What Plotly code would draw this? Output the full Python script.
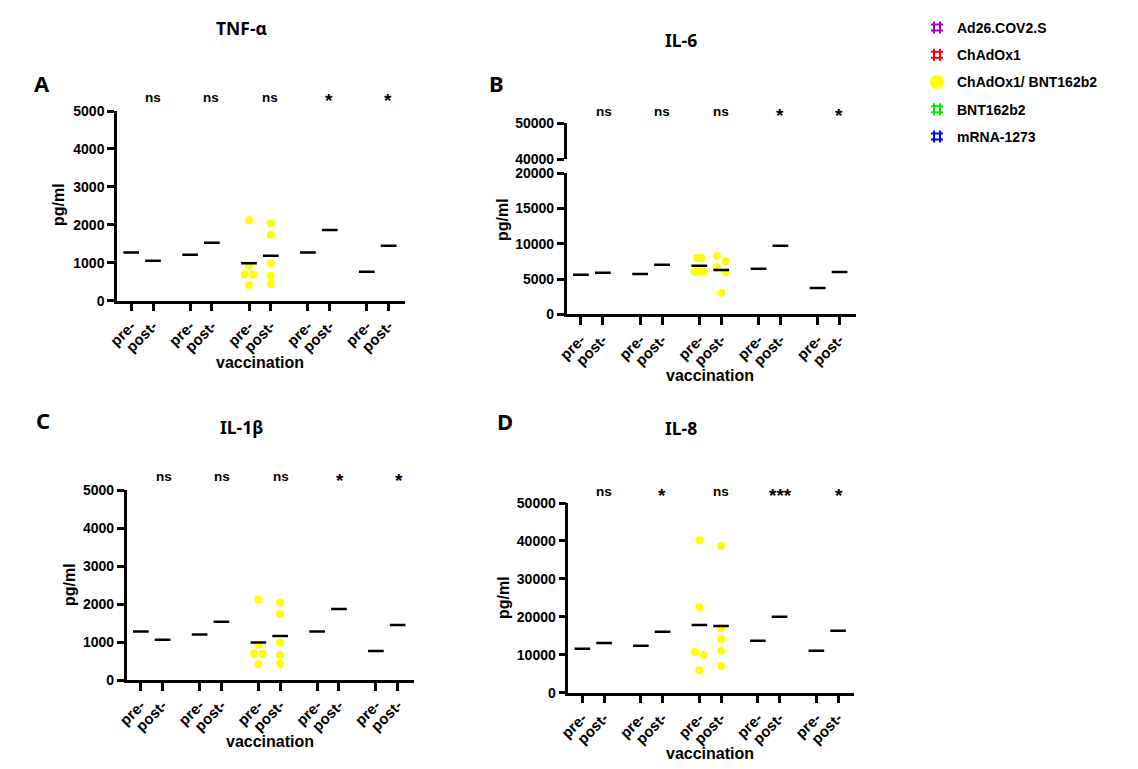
import plotly.graph_objects as go

W, H = 1138, 769
OFF = 8  # page body margin of the html page
FW, FH = W - OFF, H - OFF

# ---------------- data ----------------
groups = ["Ad26.COV2.S", "ChAdOx1", "ChAdOx1/ BNT162b2", "BNT162b2", "mRNA-1273"]
tick_labels = ["pre-", "post-"] * 5
group_pos = [0.0, 2.7, 5.4, 8.1, 10.8]  # categorical slot of each vaccine group (pre), post = +1

# panel A (TNF-α) means: pre, post for each group
tnf_means = [1270, 1055, 1210, 1530, 985, 1185, 1270, 1865, 765, 1450]
tnf_pre_pts = [2120, 925, 700, 690, 415]
tnf_post_pts = [2040, 1735, 995, 660, 440]
tnf_sig = ["ns", "ns", "ns", "*", "*"]

# panel B (IL-6)
il6_means = [5620, 5900, 5720, 7040, 6900, 6280, 6470, 9730, 3730, 6000]
il6_pre_pts = [8030, 7980, 6100, 6040, 6040]
il6_post_pts = [8270, 7520, 6670, 5960, 3070]
il6_sig = ["ns", "ns", "ns", "*", "*"]

# panel C (IL-1β)
il1b_means = [1275, 1060, 1195, 1530, 985, 1160, 1275, 1870, 760, 1450]
il1b_pre_pts = [2120, 925, 700, 690, 415]
il1b_post_pts = [2040, 1735, 990, 660, 430]
il1b_sig = ["ns", "ns", "ns", "*", "*"]

# panel D (IL-8)
il8_means = [11600, 13100, 12390, 16080, 17850, 17590, 13710, 20040, 11070, 16350]
il8_pre_pts = [40180, 22510, 10730, 9940, 5900]
il8_post_pts = [38680, 17140, 14160, 11070, 7040]
il8_sig = ["ns", "*", "ns", "***", "*"]

# jitter pattern of the scatter points (in category units)
pre_jit_5 = [0.0, 0.0, -0.2, 0.2, 0.0]
post_jit_5 = [0.0, 0.0, 0.0, 0.0, 0.0]
il6_pre_jit = [-0.1, 0.1, 0.0, -0.2, 0.2]
il6_post_jit = [-0.2, 0.2, -0.2, 0.2, 0.0]
il8_pre_jit = [0.0, 0.0, -0.2, 0.2, 0.0]

legend_colors = ["#9900cc", "#ff0000", "#ffff00", "#00ee00", "#0000ff"]
legend_symbols = ["hash", "hash", "circle", "hash", "hash"]

# ---------------- helpers ----------------
xs = []
for p in group_pos:
    xs += [p, p + 1]

FONT = "Liberation Sans, Arial, sans-serif"
TFONT = "Noto Sans, DejaVu Sans, sans-serif"
XR = [-0.65, 12.55]


def fx(px):
    return (px - OFF) / FW


def fy(py):
    return (H - py) / FH


fig = go.Figure()


def add_panel(n, means, pre_pts, post_pts, pre_jit, post_jit):
    xa = "x" if n == 1 else f"x{n}"
    ya = "y" if n == 1 else f"y{n}"
    mx, my = [], []
    for x, m in zip(xs, means):
        mx += [x - 0.36, x + 0.36, None]
        my += [m, m, None]
    g = group_pos[2]
    fig.add_trace(go.Scatter(
        x=[g + j for j in pre_jit] + [g + 1 + j for j in post_jit],
        y=pre_pts + post_pts, mode="markers",
        marker=dict(color="#ffff00", size=8, line=dict(width=0)),
        xaxis=xa, yaxis=ya, showlegend=False, cliponaxis=False, hoverinfo="y"))
    fig.add_trace(go.Scatter(x=mx, y=my, mode="lines",
                             line=dict(color="black", width=2.5),
                             xaxis=xa, yaxis=ya, showlegend=False, hoverinfo="skip"))


add_panel(1, tnf_means, tnf_pre_pts, tnf_post_pts, pre_jit_5, post_jit_5)
add_panel(2, il6_means, il6_pre_pts, il6_post_pts, il6_pre_jit, il6_post_jit)
add_panel(3, il1b_means, il1b_pre_pts, il1b_post_pts, pre_jit_5, post_jit_5)
add_panel(4, il8_means, il8_pre_pts, il8_post_pts, il8_pre_jit, post_jit_5)
# dummy trace for broken upper axis of panel B
fig.add_trace(go.Scatter(x=[None], y=[None], xaxis="x2", yaxis="y5",
                         showlegend=False, hoverinfo="skip"))

# legend entries
for name, col, sym in zip(groups, legend_colors, legend_symbols):
    fig.add_trace(go.Scatter(x=[None], y=[None], mode="markers", name=name,
                             legendgroup=name,
                             marker=dict(color=col, symbol=sym, size=9 if sym == "circle" else 8,
                                         line=dict(color=col, width=1.5)),
                             xaxis="x", yaxis="y", showlegend=True))

ytickfont = dict(family=FONT, size=14, color="black", weight="bold")
xtickfont = dict(family=FONT, size=15, color="black", weight="bold")


def xaxis(x0, x1, anchor):
    return dict(domain=[fx(x0), fx(x1)], range=XR, anchor=anchor,
                tickmode="array", tickvals=xs, ticktext=tick_labels, tickangle=-45,
                showline=True, linecolor="black", linewidth=2.5, ticks="outside",
                ticklen=8, tickwidth=2.5, tickcolor="black", showgrid=False,
                zeroline=False, tickfont=xtickfont, fixedrange=True, automargin=False)


def yaxis(y_top, y_bot, rng, dtick, anchor, tickvals=None):
    d = dict(domain=[fy(y_bot), fy(y_top)], range=rng, anchor=anchor,
             showline=True, linecolor="black", linewidth=2.5, ticks="outside",
             ticklen=7, tickwidth=2.5, tickcolor="black", showgrid=False,
             zeroline=False, tickfont=ytickfont, fixedrange=True, tickformat="d",
             automargin=False)
    if tickvals is not None:
        d.update(tickmode="array", tickvals=tickvals)
    else:
        d.update(dtick=dtick, tick0=0)
    return d


layout = dict(
    width=FW, height=FH, margin=dict(l=0, r=0, t=0, b=0, pad=0, autoexpand=False),
    plot_bgcolor="white", paper_bgcolor="white",
    xaxis=xaxis(117, 405, "y"),
    yaxis=yaxis(111, 300.7, [0, 5000], 1000, "x"),
    xaxis2=xaxis(566.7, 856, "y2"),
    yaxis2=yaxis(173.3, 314.3, [0, 20000], 5000, "x2"),
    yaxis5=yaxis(123.3, 159, [40000, 50000], None, "x2", tickvals=[40000, 50000]),
    xaxis3=xaxis(126.7, 414, "y3"),
    yaxis3=yaxis(490, 680, [0, 5000], 1000, "x3"),
    xaxis4=xaxis(568.3, 854.3, "y4"),
    yaxis4=yaxis(503, 692.7, [0, 50000], 10000, "x4"),
    showlegend=True,
    legend=dict(x=fx(917), y=fy(12), xanchor="left", yanchor="top",
                font=dict(family=FONT, size=14, color="black", weight="bold"),
                tracegroupgap=6, itemsizing="constant", bgcolor="rgba(0,0,0,0)"),
)
fig.update_layout(**layout)

ann = []


def text(x, y, s, size, font=FONT, angle=0, xanchor="center"):
    ann.append(dict(x=fx(x), y=fy(y), xref="paper", yref="paper", text=s,
                    showarrow=False, textangle=angle, xanchor=xanchor, yanchor="middle",
                    font=dict(family=font, size=size, color="black", weight="bold")))


# titles
text(241.7, 27.5, "TNF-α", 17.5, TFONT)
text(681, 40, "IL-6", 17.5, TFONT)
text(241.7, 427, "IL-1β", 17.5, TFONT)
text(681, 428, "IL-8", 17.5, TFONT)
# panel letters
text(42, 83, "A", 22, TFONT)
text(497, 83, "B", 22, TFONT)
text(43, 420, "C", 22, TFONT)
text(505, 421, "D", 22, TFONT)
# axis titles
text(59, 205, "pg/ml", 16, angle=-90)
text(503, 220, "pg/ml", 16, angle=-90)
text(69, 585, "pg/ml", 16, angle=-90)
text(503, 598, "pg/ml", 16, angle=-90)
text(260, 362.5, "vaccination", 16)
text(710, 375, "vaccination", 16)
text(270, 741.5, "vaccination", 16)
text(710, 753, "vaccination", 16)


def sig(labels, x0, unit, y_ns, y_star):
    for gp, s in zip(group_pos, labels):
        xp = x0 + (gp + 1) * unit
        if s == "ns":
            text(xp, y_ns, s, 13.5)
        else:
            text(xp, y_star + 3.5, s, 19)


sig(tnf_sig, 130.7, 21.83, 97, 97)
sig(il6_sig, 581.7, 21.8, 111.5, 111.5)
sig(il1b_sig, 141.7, 21.8, 477, 477)
sig(il8_sig, 581.7, 21.8, 492, 492)

fig.update_layout(annotations=ann)

fig.write_html("out.html")
